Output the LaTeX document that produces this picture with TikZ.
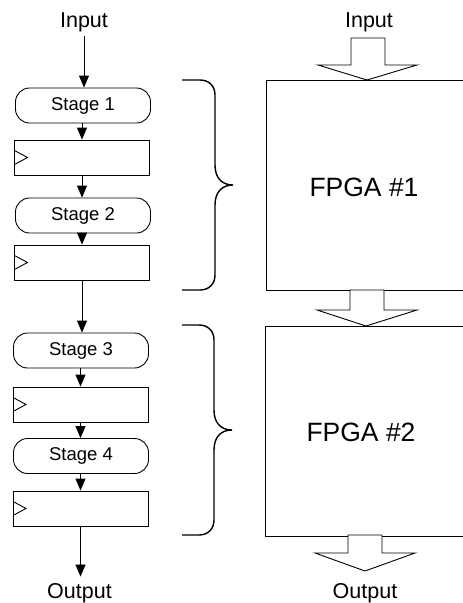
\documentclass[tikz,border=0pt]{standalone}
\usepackage{fontspec}
\setmainfont{Liberation Sans}
\usetikzlibrary{arrows.meta}
\begin{document}
\begin{tikzpicture}[x=1pt,y=-1pt,line width=0.9pt,
  stagebox/.style={draw, rounded corners=14pt, minimum width=135pt, minimum height=35pt,
    inner sep=0pt, font=\fontsize{18.5}{21}\selectfont},
  regbox/.style={draw, minimum width=135pt, minimum height=35pt, inner sep=0pt,
    path picture={\draw ([yshift=7pt]path picture bounding box.west)
      -- ([xshift=13pt]path picture bounding box.west)
      -- ([yshift=-7pt]path picture bounding box.west);}},
  lbl/.style={font=\fontsize{21.5}{24}\selectfont, inner sep=0pt, anchor=base},
  fpgabox/.style={draw, anchor=north west, minimum width=260pt, minimum height=210pt, inner sep=0pt},
  fpgatext/.style={font=\fontsize{26.5}{30}\selectfont, inner sep=0pt},
  flow/.style={-{Triangle[length=12pt,width=10pt]}},
  brace/.style={line width=1.4pt},
  blockarrow/.style={draw, fill=white, line width=0.9pt, line join=miter}
]
\useasboundingbox (0,0) rectangle (463,603);
\clip (0,0) rectangle (463,603);

% left column
\node[lbl] (inl) at (84,27) {Input};
\node[stagebox] (s1) at (83,105.5) {Stage 1};
\node[regbox]   (r1) at (82,157.5) {};
\node[stagebox] (s2) at (83,215.5) {Stage 2};
\node[regbox]   (r2) at (82,262.5) {};
\node[stagebox] (s3) at (81,350.5) {Stage 3};
\node[regbox]   (r3) at (80.5,404.5) {};
\node[stagebox] (s4) at (81,456) {Stage 4};
\node[regbox]   (r4) at (80.5,508.5) {};
\node[lbl] (outl) at (79.5,598) {Output};

\draw[flow] ([yshift=-4pt]inl.south) -- (inl.south |- s1.north);
\draw[flow] (r1.north |- s1.south) -- (r1.north);
\draw[flow] (r1.south) -- (r1.south |- s2.north);
\draw[flow] (r2.north |- s2.south) -- (r2.north);
\draw[flow] (r2.south) -- (r2.south |- s3.north);
\draw[flow] (r3.north |- s3.south) -- (r3.north);
\draw[flow] (r3.south) -- (r3.south |- s4.north);
\draw[flow] (r4.north |- s4.south) -- (r4.north);
\draw[flow] (r4.south) -- ([yshift=6pt]r4.south |- outl.north);

% braces
\draw[brace] (182,80) -- (200,80) .. controls (209,80) and (215,86) .. (215,95)
  -- (215,165) .. controls (215,178) and (222,185) .. (233,185)
  .. controls (222,185) and (215,192) .. (215,205)
  -- (215,275) .. controls (215,284) and (209,290) .. (200,290) -- (182,290);
\draw[brace] (182,325) -- (199,325) .. controls (208,325) and (214,331) .. (214,340)
  -- (214,410) .. controls (214,423) and (221,430) .. (232,430)
  .. controls (221,430) and (214,437) .. (214,450)
  -- (214,520) .. controls (214,529) and (208,535) .. (199,535) -- (182,535);

% FPGA boxes
\node[fpgabox] (f1) at (266,80) {};
\node[fpgabox] (f2) at (265,326) {};
\node[fpgatext] (t1) at (364,187) {FPGA \#1};
\node[fpgatext] (t2) at (361,432) {FPGA \#2};

% right labels
\node[lbl] (inr) at (369,27) {Input};
\node[lbl] (outr) at (365,598) {Output};

% block arrows
\path[blockarrow] (351,38) -- (385,38) -- (385,65) -- (417,65) -- (367,80)
  -- (318,65) -- (351,65) -- cycle;
\path[blockarrow] (350,290) -- (384,290) -- (384,310) -- (417,310) -- (366,326)
  -- (317,310) -- (350,310) -- cycle;
\path[blockarrow] (348,535) -- (382,535) -- (382,553) -- (415,553) -- (365,571)
  -- (315,553) -- (348,553) -- cycle;
\end{tikzpicture}
\end{document}
